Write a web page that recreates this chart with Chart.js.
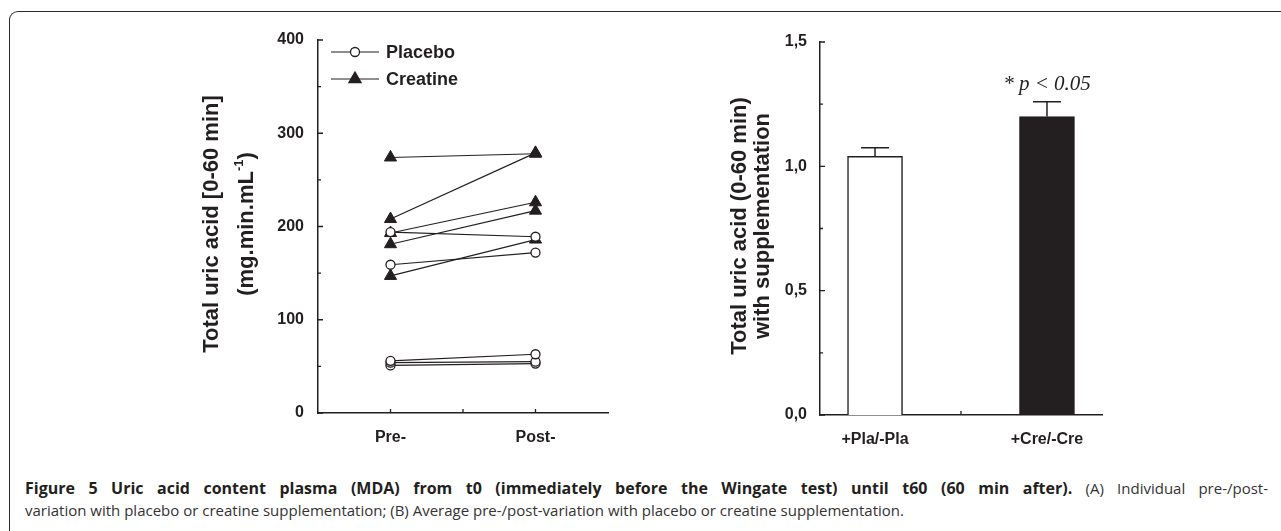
<!DOCTYPE html>
<html>
<head>
<meta charset="utf-8">
<script src="https://cdn.jsdelivr.net/npm/chart.js@4.4.1/dist/chart.umd.min.js"></script>
<style>
  body { margin: 0; background: #fff; width: 1281px; height: 531px; overflow: hidden; position: relative; }
  #frame { position: absolute; left: 9px; top: 11px; width: 1300px; height: 560px;
           border-left: 1.5px solid #2a2a2a; border-top: 1.5px solid #2a2a2a; border-top-left-radius: 9px; }
  #c1 { position: absolute; left: 160px; top: 0; }
  #c2 { position: absolute; left: 700px; top: 0; }
  #cap { position: absolute; left: 25px; top: 477px; width: 1243px; font-family: 'Open Sans', sans-serif; font-size: 15px;
         color: #333; line-height: 22px; white-space: nowrap; }
  #cap .l1 { text-align: justify; text-align-last: justify; white-space: normal; }
  #cap b { color: #231f20; font-size: 16px; }
</style>
</head>
<body>
<div id="frame"></div>
<canvas id="c1" width="480" height="470"></canvas>
<canvas id="c2" width="440" height="470"></canvas>
<div id="cap">
  <div class="l1"><b>Figure 5 Uric acid content plasma (MDA) from t0 (immediately before the Wingate test) until t60 (60 min after).</b> (A) Individual pre-/post-</div>
  <div>variation with placebo or creatine supplementation; (B) Average pre-/post-variation with placebo or creatine supplementation.</div>
</div>
<script>
// panel A: individual values
var groups = ["Pre-", "Post-"];
var placeboPre = [194, 159, 56, 54, 51];
var placeboPost = [189, 172, 63, 55, 53];
var creatinePre = [274, 208, 193, 181, 147];
var creatinePost = [278, 279, 226, 217, 186];
var yTicksA = [0, 100, 200, 300, 400];
var yMinorA = [50, 150, 250, 350];

// panel B: averages
var barLabels = ["+Pla/-Pla", "+Cre/-Cre"];
var barMeans = [1.04, 1.2];
var barErrors = [0.035, 0.06];
var yTicksB = [0, 0.5, 1.0, 1.5];
var yMinorB = [0.25, 0.75, 1.25];

var ink = "#231f20";
var boldFont = { family: "Arial, 'Liberation Sans'", size: 16, weight: "bold" };
var titleFont = "bold 22px Arial, 'Liberation Sans'";
var supFont = "bold 13px Arial, 'Liberation Sans'";

// inward tick marks, drawn on the scales
var innerTicks = {
  id: "innerTicks",
  afterDraw: function(chart, args, o) {
    var ctx = chart.ctx, a = chart.chartArea, x = chart.scales.x, y = chart.scales.y;
    ctx.save();
    ctx.strokeStyle = ink;
    ctx.lineWidth = 1.3;
    ctx.beginPath();
    o.yMajor.forEach(function(v) { var p = y.getPixelForValue(v); ctx.moveTo(a.left, p); ctx.lineTo(a.left + 5, p); });
    o.yMinor.forEach(function(v) { var p = y.getPixelForValue(v); ctx.moveTo(a.left, p); ctx.lineTo(a.left + 3, p); });
    o.xTicks.forEach(function(v) { var p = x.getPixelForValue(v); ctx.moveTo(p, a.bottom); ctx.lineTo(p, a.bottom - 4); });
    ctx.stroke();
    ctx.restore();
  }
};

// rotated axis titles
var sideTitle = {
  id: "sideTitle",
  afterDraw: function(chart, args, o) {
    var ctx = chart.ctx;
    ctx.save();
    ctx.fillStyle = ink;
    ctx.textBaseline = "alphabetic";
    o.lines.forEach(function(l) {
      ctx.save();
      ctx.translate(l.x, o.cy);
      ctx.rotate(-Math.PI / 2);
      ctx.font = titleFont;
      var w = ctx.measureText(l.text).width, sw = 0, tail = 0;
      if (l.sup) {
        tail = ctx.measureText(l.tail).width;
        ctx.font = supFont;
        sw = ctx.measureText(l.sup).width;
      }
      var x0 = -(w + sw + tail) / 2;
      ctx.font = titleFont;
      ctx.fillText(l.text, x0, 0);
      if (l.sup) {
        ctx.font = supFont;
        ctx.fillText(l.sup, x0 + w, -10);
        ctx.font = titleFont;
        ctx.fillText(l.tail, x0 + w + sw, 0);
      }
      ctx.restore();
    });
    ctx.restore();
  }
};

var lineLegend = {
  id: "lineLegend",
  afterDraw: function(chart, args, o) {
    var ctx = chart.ctx, a = chart.chartArea;
    ctx.save();
    o.items.forEach(function(it, i) {
      var y0 = a.top + 12 + i * 27, x0 = a.left + 13;
      ctx.strokeStyle = ink; ctx.lineWidth = 1.2;
      ctx.beginPath(); ctx.moveTo(x0, y0); ctx.lineTo(x0 + 48, y0); ctx.stroke();
      ctx.lineWidth = 1.3;
      if (it.style === "circle") {
        ctx.fillStyle = "#fff";
        ctx.beginPath(); ctx.arc(x0 + 24, y0, it.radius, 0, Math.PI * 2); ctx.fill(); ctx.stroke();
      } else {
        ctx.fillStyle = ink;
        Chart.helpers.drawPoint(ctx, { pointStyle: it.style, radius: it.radius, borderWidth: 1 }, x0 + 24, y0);
      }
      ctx.fillStyle = ink;
      ctx.font = "bold 18px Arial, 'Liberation Sans'";
      ctx.textBaseline = "middle";
      ctx.fillText(it.label, x0 + 55, y0 + 1);
    });
    ctx.restore();
  }
};

function subject(pre, post, style) {
  var circ = style === "circle";
  return {
    data: [{ x: 1, y: pre }, { x: 2, y: post }],
    borderColor: ink,
    borderWidth: 1.2,
    pointStyle: style,
    pointRadius: circ ? 4.5 : 7,
    pointBackgroundColor: circ ? "#fff" : ink,
    pointBorderColor: ink,
    pointBorderWidth: circ ? 1.3 : 1
  };
}

var setsA = [];
placeboPre.forEach(function(v, i) { setsA.push(subject(v, placeboPost[i], "circle")); });
creatinePre.forEach(function(v, i) { setsA.push(subject(v, creatinePost[i], "triangle")); });

new Chart(document.getElementById("c1"), {
  type: "line",
  data: { datasets: setsA },
  options: {
    responsive: false,
    animation: false,
    layout: { padding: { left: 0, top: 40, right: 32, bottom: 0 } },
    plugins: {
      legend: { display: false },
      tooltip: { enabled: false },
      innerTicks: { yMajor: yTicksA, yMinor: yMinorA, xTicks: [1, 1.5, 2] },
      sideTitle: { cy: 224, lines: [
        { x: 58, text: "Total uric acid [0-60 min]" },
        { x: 93, text: "(mg.min.mL", sup: "-1", tail: ")" }
      ] },
      lineLegend: { items: [
        { label: "Placebo", style: "circle", radius: 4.5 },
        { label: "Creatine", style: "triangle", radius: 7 }
      ] }
    },
    scales: {
      x: {
        type: "linear", min: 0.5, max: 2.5,
        afterBuildTicks: function(s) { s.ticks = [{ value: 1 }, { value: 2 }]; },
        afterFit: function(s) { s.height = 57; },
        ticks: { font: boldFont, color: ink, padding: 15, maxRotation: 0,
                 callback: function(v) { return groups[v - 1]; } },
        grid: { display: false, drawTicks: false },
        border: { display: true, color: ink, width: 1.5 }
      },
      y: {
        min: 0, max: 400,
        afterBuildTicks: function(s) { s.ticks = yTicksA.map(function(v) { return { value: v }; }); },
        afterFit: function(s) { s.width = 158; },
        ticks: { font: boldFont, color: ink, padding: 14 },
        grid: { display: false, drawTicks: false },
        border: { display: true, color: ink, width: 1.5 }
      }
    }
  },
  plugins: [innerTicks, sideTitle, lineLegend]
});

var errorBars = {
  id: "errorBars",
  afterDatasetsDraw: function(chart, args, o) {
    var ctx = chart.ctx, x = chart.scales.x, y = chart.scales.y;
    ctx.save();
    ctx.strokeStyle = ink; ctx.lineWidth = 1.5;
    barMeans.forEach(function(m, i) {
      var px = x.getPixelForValue(i + 1), b = y.getPixelForValue(m), t = y.getPixelForValue(m + barErrors[i]);
      ctx.beginPath();
      ctx.moveTo(px, b); ctx.lineTo(px, t);
      ctx.moveTo(px - 14, t); ctx.lineTo(px + 14, t);
      ctx.stroke();
    });
    ctx.fillStyle = ink;
    ctx.font = "italic 21px 'Liberation Serif', 'Times New Roman', serif";
    ctx.textAlign = "center"; ctx.textBaseline = "middle";
    ctx.fillText(o.note, x.getPixelForValue(2), y.getPixelForValue(1.33));
    ctx.restore();
  }
};

new Chart(document.getElementById("c2"), {
  type: "bar",
  data: {
    datasets: [{
      data: barMeans.map(function(m, i) { return { x: i + 1, y: m }; }),
      backgroundColor: ["#fff", ink],
      borderColor: ink,
      borderWidth: 1.5,
      barThickness: 55
    }]
  },
  options: {
    responsive: false,
    animation: false,
    layout: { padding: { left: 0, top: 42, right: 38, bottom: 0 } },
    plugins: {
      legend: { display: false },
      tooltip: { enabled: false },
      innerTicks: { yMajor: yTicksB, yMinor: yMinorB, xTicks: [1.5] },
      sideTitle: { cy: 226, lines: [
        { x: 46, text: "Total uric acid (0-60 min)" },
        { x: 69, text: "with supplementation" }
      ] },
      errorBars: { note: "* p < 0.05" }
    },
    scales: {
      x: {
        type: "linear", min: 0.68, max: 2.32, offset: false,
        afterBuildTicks: function(s) { s.ticks = [{ value: 1 }, { value: 2 }]; },
        afterFit: function(s) { s.height = 55; },
        ticks: { font: boldFont, color: ink, padding: 15, maxRotation: 0,
                 callback: function(v) { return barLabels[v - 1]; } },
        grid: { display: false, drawTicks: false },
        border: { display: true, color: ink, width: 1.5 }
      },
      y: {
        min: 0, max: 1.5,
        afterBuildTicks: function(s) { s.ticks = yTicksB.map(function(v) { return { value: v }; }); },
        afterFit: function(s) { s.width = 120; },
        ticks: { font: boldFont, color: ink, padding: 13,
                 callback: function(v) { return v.toFixed(1).replace(".", ","); } },
        grid: { display: false, drawTicks: false },
        border: { display: true, color: ink, width: 1.5 }
      }
    }
  },
  plugins: [innerTicks, sideTitle, errorBars]
});
</script>
</body>
</html>
